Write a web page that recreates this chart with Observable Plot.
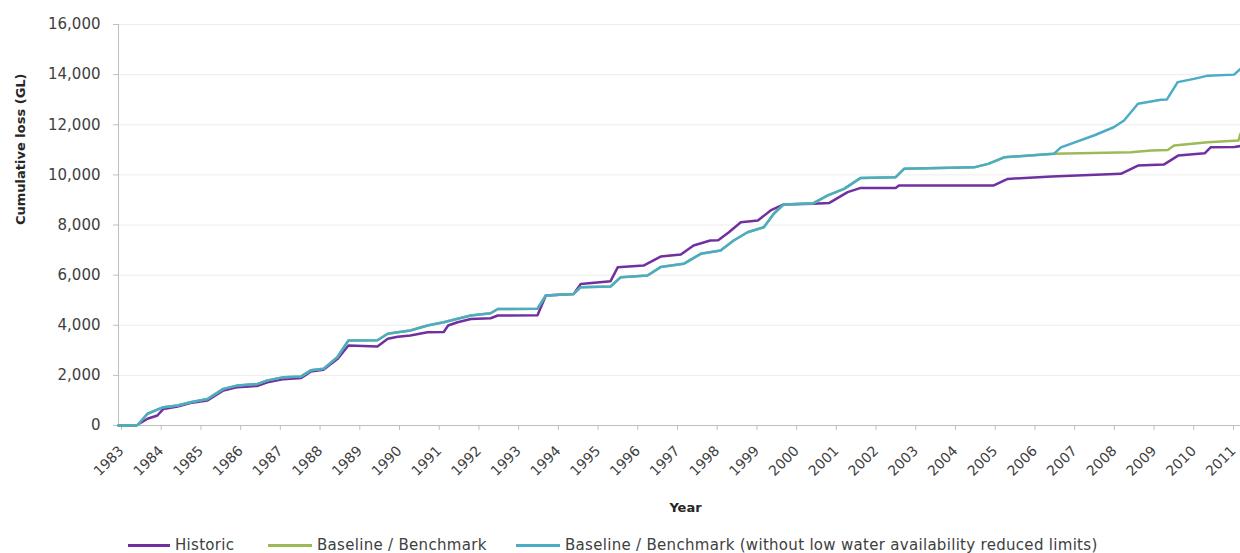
<!DOCTYPE html>
<html>
<head>
<meta charset="utf-8">
<script src="https://cdn.jsdelivr.net/npm/d3@7"></script>
<script src="https://cdn.jsdelivr.net/npm/@observablehq/plot@0.6"></script>
<style>
  html, body { margin: 0; padding: 0; background: #fff; }
  #wrap { width: 1240px; height: 553px; position: relative; overflow: hidden; font-family: "DejaVu Sans", sans-serif; }
  #legend { position: relative; width: 1240px; height: 33px; }
  .lg-line { position: absolute; height: 3px; top: 24px; }
  .lg-text { position: absolute; top: 16px; font-size: 15px; line-height: 18px; letter-spacing: 0.3px; color: #404040; white-space: nowrap; }
</style>
</head>
<body>
<div id="wrap"><div id="chart"></div><div id="legend"></div></div>
<script>
// ---- Data ----
const seriesNames = ["Historic", "Baseline / Benchmark", "Baseline / Benchmark (without low water availability reduced limits)"];
const seriesColors = ["#7030A0", "#9BBB59", "#4BACC6"];

const yearTicks = [1983,1984,1985,1986,1987,1988,1989,1990,1991,1992,1993,1994,1995,1996,1997,1998,1999,2000,2001,2002,2003,2004,2005,2006,2007,2008,2009,2010,2011];
const valueTicks = [0,2000,4000,6000,8000,10000,12000,14000,16000];

const historicYears = [1983.0,1983.45,1983.73,1983.98,1984.13,1984.49,1984.81,1985.24,1985.64,1986.0,1986.5,1986.75,1987.16,1987.6,1987.84,1988.16,1988.51,1988.79,1989.52,1989.78,1990.03,1990.35,1990.78,1991.19,1991.3,1991.54,1991.87,1992.37,1992.55,1993.55,1993.76,1994.46,1994.64,1995.39,1995.57,1996.22,1996.65,1997.16,1997.48,1997.9,1998.1,1998.37,1998.67,1999.1,1999.42,1999.75,2000.5,2000.9,2001.36,2001.69,2002.57,2002.65,2005.04,2005.39,2006.5,2008.24,2008.67,2009.32,2009.68,2010.35,2010.5,2011.1,2011.25];
const historicValues = [0,0,270,400,660,760,900,1000,1400,1530,1580,1720,1850,1900,2150,2220,2650,3190,3150,3460,3540,3590,3720,3730,3990,4120,4250,4280,4390,4400,5190,5250,5650,5760,6310,6380,6740,6820,7180,7380,7390,7710,8110,8180,8580,8820,8850,8880,9310,9480,9480,9580,9580,9840,9935,10040,10370,10410,10770,10860,11100,11110,11150];

const baselineYears = [1983.0,1983.48,1983.73,1984.13,1984.49,1984.81,1985.24,1985.64,1986.0,1986.5,1986.75,1987.16,1987.6,1987.84,1988.16,1988.51,1988.79,1989.52,1989.78,1990.03,1990.35,1990.78,1991.19,1991.54,1991.87,1992.37,1992.55,1993.55,1993.76,1994.46,1994.64,1995.39,1995.65,1996.32,1996.65,1997.23,1997.66,1998.16,1998.49,1998.84,1999.25,1999.5,1999.75,2000.5,2000.86,2001.27,2001.69,2002.57,2002.78,2004.54,2004.9,2005.3,2006.55,2008.5,2009.0,2009.42,2009.58,2010.43,2011.2,2011.25];
const baselineValues = [0,20,470,730,800,930,1060,1460,1600,1660,1800,1930,1960,2200,2260,2730,3390,3400,3660,3720,3790,3990,4120,4260,4390,4480,4650,4660,5190,5250,5520,5545,5920,5985,6320,6450,6850,6980,7380,7710,7910,8450,8820,8870,9180,9440,9880,9910,10240,10300,10440,10700,10840,10900,10970,10990,11170,11300,11370,11640];

const noLimitYears = [1983.0,1983.48,1983.73,1984.13,1984.49,1984.81,1985.24,1985.64,1986.0,1986.5,1986.75,1987.16,1987.6,1987.84,1988.16,1988.51,1988.79,1989.52,1989.78,1990.03,1990.35,1990.78,1991.19,1991.54,1991.87,1992.37,1992.55,1993.55,1993.76,1994.46,1994.64,1995.39,1995.65,1996.32,1996.65,1997.23,1997.66,1998.16,1998.49,1998.84,1999.25,1999.5,1999.75,2000.5,2000.86,2001.27,2001.69,2002.57,2002.78,2004.54,2004.9,2005.3,2006.55,2006.73,2007.56,2008.06,2008.32,2008.67,2009.25,2009.4,2009.67,2010.08,2010.43,2011.09,2011.25];
const noLimitValues = [0,20,470,730,800,930,1060,1460,1600,1660,1800,1930,1960,2200,2260,2730,3390,3400,3660,3720,3790,3990,4120,4260,4390,4480,4650,4660,5190,5250,5520,5545,5920,5985,6320,6450,6850,6980,7380,7710,7910,8450,8820,8870,9180,9440,9880,9910,10240,10300,10440,10700,10840,11100,11570,11900,12170,12840,13000,13010,13700,13830,13960,14000,14230];

// ---- Build table ----
const toRows = (name, ys, vs) => ys.map((y, i) => ({ series: name, year: y, value: vs[i] }));
const rows = [
  ...toRows(seriesNames[0], historicYears, historicValues),
  ...toRows(seriesNames[1], baselineYears, baselineValues),
  ...toRows(seriesNames[2], noLimitYears, noLimitValues)
];

const W = 1240, H = 520;
const chart = Plot.plot({
  width: W, height: H,
  marginLeft: 118, marginRight: 0, marginTop: 24, marginBottom: 95,
  style: { fontFamily: "DejaVu Sans, sans-serif", fontSize: "14px", background: "#fff" },
  x: { domain: [1983, 2011.252], label: null },
  y: { domain: [0, 16000], label: null },
  color: { domain: seriesNames, range: seriesColors },
  marks: [
    Plot.gridY(valueTicks, { stroke: "#ececec", strokeOpacity: 1 }),
    Plot.axisY(valueTicks, { tickSize: 5, tickPadding: 13, tickFormat: d3.format(","), stroke: "#bfbfbf", fill: "#404040", fontSize: 15, label: null }),
    Plot.axisX(yearTicks, { tickSize: 5, tickPadding: 18, dx: 3, tickRotate: -45, tickFormat: d => String(d), stroke: "#bfbfbf", fill: "#404040", fontSize: 14, label: null }),
    Plot.ruleX([1983], { stroke: "#bfbfbf" }),
    Plot.ruleY([0], { stroke: "#bfbfbf" }),
    Plot.line(rows, { x: "year", y: "value", z: "series", stroke: "series", strokeWidth: 2.5 }),
    Plot.text(["Year"], { frameAnchor: "bottom", dy: 86, dx: 6, fontWeight: "bold", fontSize: 13, fill: "#262626" }),
    Plot.text(["Cumulative loss (GL)"], { frameAnchor: "left", dx: -98, rotate: -90, fontWeight: "bold", fontSize: 13, fill: "#262626" })
  ]
});
document.getElementById("chart").appendChild(chart);

// ---- Legend ----
const legend = document.getElementById("legend");
const lgPos = [[128, 42, 175], [268, 44, 317], [516, 44, 565]];
seriesNames.forEach((name, i) => {
  const l = document.createElement("div");
  l.className = "lg-line";
  l.style.left = lgPos[i][0] + "px";
  l.style.width = lgPos[i][1] + "px";
  l.style.background = seriesColors[i];
  legend.appendChild(l);
  const t = document.createElement("div");
  t.className = "lg-text";
  t.style.left = lgPos[i][2] + "px";
  t.textContent = name;
  legend.appendChild(t);
});
</script>
</body>
</html>
